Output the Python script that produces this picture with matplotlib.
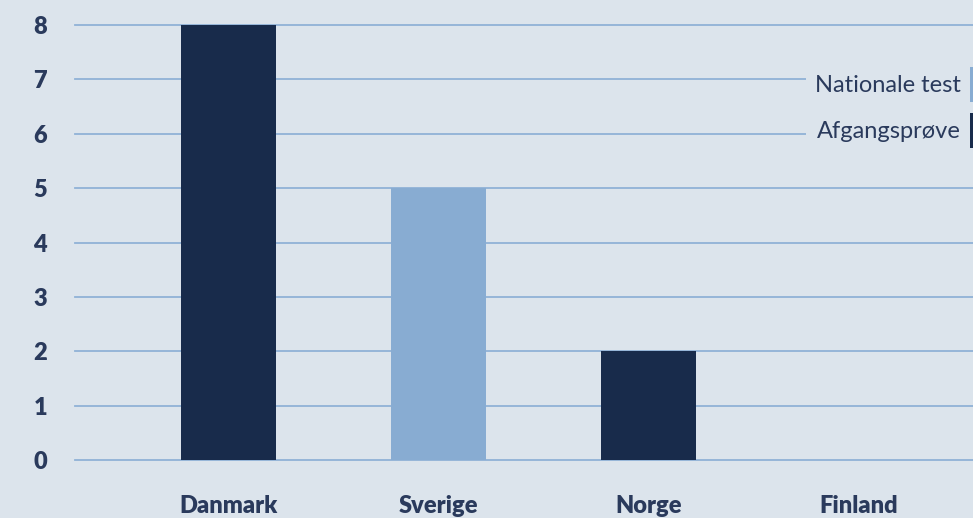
import matplotlib
matplotlib.use("Agg")
import matplotlib.pyplot as plt
from matplotlib.patches import Patch

categories = ["Danmark", "Sverige", "Norge", "Finland"]
values = [8, 5, 2, 0]
test_type = ["Afgangsprøve", "Nationale test", "Afgangsprøve", None]
series_names = ["Nationale test", "Afgangsprøve"]
yticks = [0, 1, 2, 3, 4, 5, 6, 7, 8]

BG = "#dce4ec"
NAVY = "#182b4b"
LIGHT = "#88acd2"
GRID = "#90b2d6"
TEXT = "#2a3a5c"
colors_map = {"Nationale test": LIGHT, "Afgangsprøve": NAVY, None: NAVY}

plt.rcParams['font.family'] = ['Lato', 'DejaVu Sans']

W, H = 973, 518
fig = plt.figure(figsize=(W / 100, H / 100), dpi=100, facecolor=BG)
ax = fig.add_axes([75 / W, (H - 460) / H, (W - 75) / W, (460 - 25) / H])
ax.set_facecolor(BG)

x = list(range(len(categories)))
ax.bar(x, values, width=0.452, color=[colors_map[t] for t in test_type], zorder=3)

ax.set_ylim(0, 8)
ax.set_xlim((75 - 228.5) / 210, (973 - 228.5) / 210)
ax.set_yticks(yticks)
ax.set_yticklabels([str(v) for v in yticks], fontsize=17, fontweight='heavy', color=TEXT)
ax.set_xticks(x)
ax.set_xticklabels(categories, fontsize=17, fontweight='heavy', color=TEXT)
ax.tick_params(axis='y', length=0, pad=25)
ax.tick_params(axis='x', length=0, pad=25.5)
for lbl in ax.get_yticklabels():
    lbl.set_horizontalalignment('center')
ax.yaxis.grid(True, color=GRID, linewidth=1.3, zorder=0, clip_on=False)
ax.set_axisbelow(True)
for s in ax.spines.values():
    s.set_visible(False)

handles = [Patch(facecolor=colors_map[n], edgecolor='none') for n in series_names]
leg = fig.legend(handles, series_names, loc='upper right',
                 bbox_to_anchor=(1.0 + 21 / W, (H - 58) / H),
                 frameon=True, facecolor=BG, edgecolor='none', framealpha=1,
                 markerfirst=False, fontsize=17, handlelength=0.6, handleheight=1.9,
                 handletextpad=0.4, labelspacing=0.45, borderpad=0.4, borderaxespad=0)
for t in leg.get_texts():
    t.set_color(TEXT)
leg.get_frame().set_linewidth(0)

fig.savefig("out.png", dpi=100, facecolor=BG)
